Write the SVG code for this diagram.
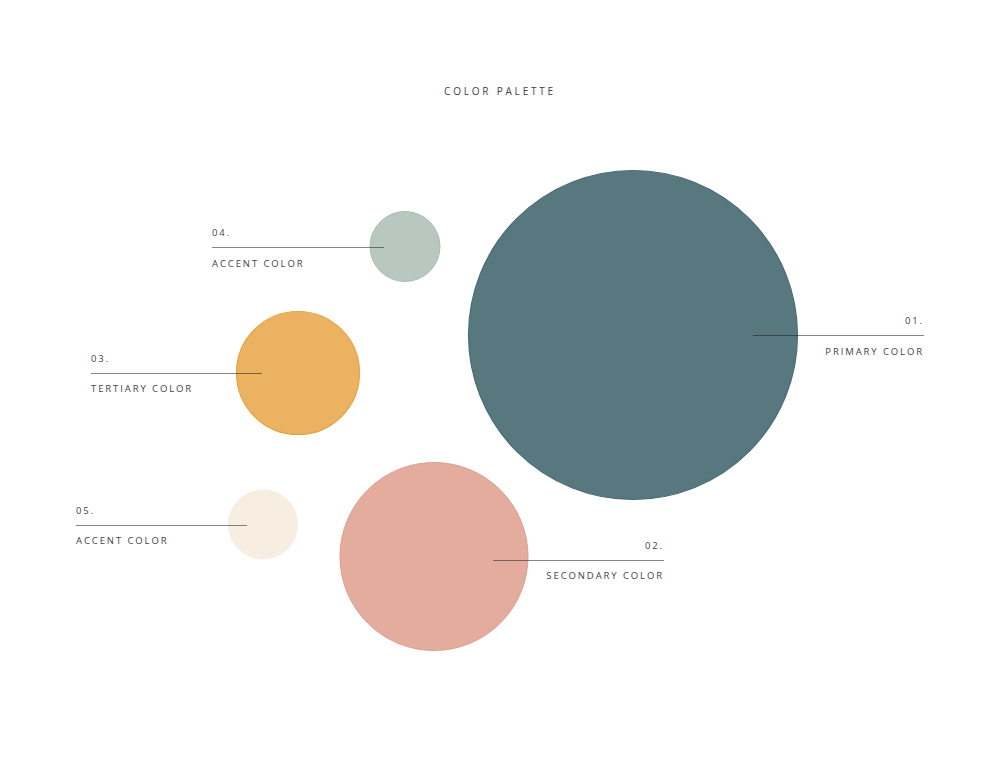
<svg xmlns="http://www.w3.org/2000/svg" width="1000" height="773" viewBox="0 0 1000 773">
<style>
text{font-family:"Open Sans","Liberation Sans",sans-serif;font-size:9.5px;fill:#444;letter-spacing:1.9px}
.r{text-anchor:end}
.ln{stroke:#222;stroke-opacity:0.55;stroke-width:1;fill:none}
</style>
<rect width="1000" height="773" fill="#fff"/>
<text x="500" y="95" text-anchor="middle" style="font-size:10px;letter-spacing:2.8px">COLOR PALETTE</text>
<g id="primary"><circle cx="633" cy="335" r="164.5" fill="#587880" stroke="#4b6c74" stroke-width="1.2"/></g>
<g id="accent04"><circle cx="405" cy="246.5" r="35" fill="#b8c8c0" stroke="#a9bcb3" stroke-width="1"/></g>
<g id="tertiary"><circle cx="298" cy="373" r="61.5" fill="#ebb262" stroke="#e3a541" stroke-width="1.2"/></g>
<g id="accent05"><circle cx="263" cy="524.5" r="35" fill="#f7ede0"/></g>
<g id="secondary"><circle cx="434" cy="556.5" r="94" fill="#e3ac9c" stroke="#daa08f" stroke-width="1"/></g>
<g id="connectors">
<line class="ln" x1="753" y1="335.5" x2="924" y2="335.5"/>
<line class="ln" x1="212" y1="247.5" x2="384" y2="247.5"/>
<line class="ln" x1="91" y1="373.5" x2="262" y2="373.5"/>
<line class="ln" x1="76" y1="525.5" x2="247" y2="525.5"/>
<line class="ln" x1="493" y1="560.5" x2="664" y2="560.5"/>
</g>
<g id="labels">
<text class="r" x="924" y="324">01.</text>
<text class="r" x="924" y="355">PRIMARY COLOR</text>
<text x="212" y="236">04.</text>
<text x="212" y="267">ACCENT COLOR</text>
<text x="91" y="362">03.</text>
<text x="91" y="392">TERTIARY COLOR</text>
<text x="76" y="514">05.</text>
<text x="76" y="544">ACCENT COLOR</text>
<text class="r" x="664" y="549">02.</text>
<text class="r" x="664" y="579">SECONDARY COLOR</text>
</g>
</svg>
